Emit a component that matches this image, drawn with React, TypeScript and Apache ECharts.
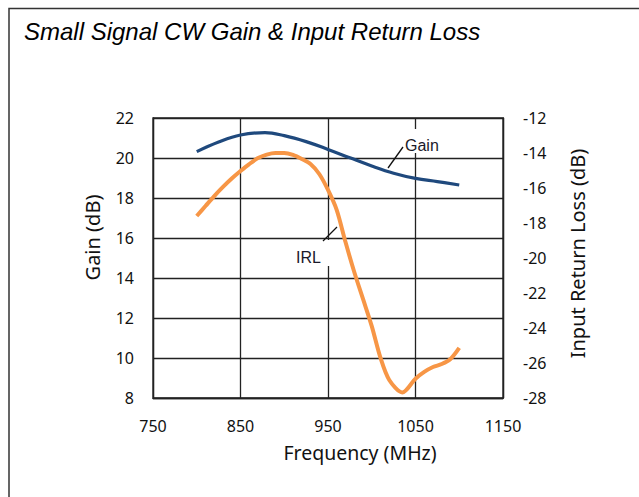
import { useEffect, useRef } from "react";
import * as echarts from "echarts";

const titleText = "Small Signal CW Gain & Input Return Loss";
const xName = "Frequency (MHz)";
const leftName = "Gain (dB)";
const rightName = "Input Return Loss (dB)";

const xMin = 750;
const xMax = 1150;
const xStep = 100;
const gainMin = 8;
const gainMax = 22;
const irlMin = -28;
const irlMax = -12;

const gainFreq = [800, 825, 850, 878, 900, 925, 950, 975, 1000, 1025, 1050, 1075, 1100];
const gainDb = [20.32, 20.8, 21.15, 21.27, 21.12, 20.82, 20.43, 20.01, 19.6, 19.24, 18.98, 18.82, 18.65];

const irlFreq = [
  800, 810, 820, 830, 840, 850, 860, 870, 880, 890, 900, 910, 920, 930, 940, 950,
  960, 970, 980, 990, 1000, 1010, 1020, 1035, 1050, 1060, 1070, 1080, 1090, 1100,
];
const irlDb = [
  -17.6, -17.03, -16.46, -15.94, -15.46, -15.03, -14.63, -14.29, -14.09, -14.0, -14.0, -14.11, -14.34, -14.63, -15.2, -16.11,
  -17.26, -19.09, -20.8, -22.34, -23.89, -25.71, -26.97, -27.68, -26.9, -26.51, -26.23, -26.06, -25.77, -25.14,
];

const FONT = "'Noto Sans', 'Open Sans', sans-serif";

export default function App() {
  const ref = useRef<HTMLDivElement>(null);
  useEffect(() => {
    if (!ref.current) return;
    const chart = echarts.init(ref.current, null, { renderer: "svg" });
    const gridColor = "#222";
    chart.setOption({
      animation: false,
      backgroundColor: "#fff",
      grid: {
        left: 153,
        top: 118,
        right: 136,
        bottom: 99,
        show: true,
        borderColor: gridColor,
        borderWidth: 1.3,
      },
      xAxis: {
        type: "value",
        min: xMin,
        max: xMax,
        interval: xStep,
        axisLine: { show: true, lineStyle: { color: gridColor, width: 1.3 } },
        axisTick: { show: false },
        splitLine: { show: true, lineStyle: { color: gridColor, width: 1.3 } },
        axisLabel: {
          color: "#111",
          fontFamily: FONT,
          fontSize: 16,
          margin: 20,
          formatter: (v: number) => String(v),
        },
      },
      yAxis: [
        {
          type: "value",
          min: gainMin,
          max: gainMax,
          interval: 2,
          axisLine: { show: true, lineStyle: { color: gridColor, width: 1.3 } },
          axisTick: { show: false },
          splitLine: { show: true, lineStyle: { color: gridColor, width: 1.3 } },
          axisLabel: { color: "#111", fontFamily: FONT, fontSize: 16, margin: 19 },
        },
        {
          type: "value",
          min: irlMin,
          max: irlMax,
          interval: 2,
          position: "right",
          axisLine: { show: true, lineStyle: { color: gridColor, width: 1.3 } },
          axisTick: { show: false },
          splitLine: { show: false },
          axisLabel: { color: "#111", fontFamily: FONT, fontSize: 16, margin: 20 },
        },
      ],
      series: [
        {
          name: "Gain",
          type: "line",
          yAxisIndex: 0,
          smooth: 0.4,
          showSymbol: false,
          lineStyle: { color: "#1F497D", width: 3.2 },
          data: gainFreq.map((f, i) => [f, gainDb[i]]),
          z: 3,
        },
        {
          name: "IRL",
          type: "line",
          yAxisIndex: 1,
          smooth: 0.3,
          showSymbol: false,
          lineStyle: { color: "#F79646", width: 4 },
          data: irlFreq.map((f, i) => [f, irlDb[i]]),
          z: 3,
        },
      ],
      graphic: [
        {
          type: "rect",
          z: 100,
          shape: { x: 9, y: 8.5, width: 700, height: 600 },
          style: { fill: "none", stroke: "#333", lineWidth: 1.5 },
        },
        {
          type: "text",
          z: 100,
          x: 24,
          y: 31.5,
          style: {
            text: titleText,
            fontFamily: "'Liberation Sans', Arial, sans-serif",
            fontStyle: "italic",
            fontSize: 24,
            fill: "#000",
            verticalAlign: "middle",
            align: "left",
          },
        },
        {
          type: "text",
          z: 100,
          x: 92,
          y: 237.5,
          rotation: Math.PI / 2,
          style: {
            text: leftName,
            fontFamily: FONT,
            fontSize: 20,
            fill: "#111",
            align: "center",
            verticalAlign: "middle",
          },
        },
        {
          type: "text",
          z: 100,
          x: 577,
          y: 253.5,
          rotation: Math.PI / 2,
          style: {
            text: rightName,
            fontFamily: FONT,
            fontSize: 20,
            fill: "#111",
            align: "center",
            verticalAlign: "middle",
          },
        },
        {
          type: "text",
          z: 100,
          x: 360,
          y: 452,
          style: {
            text: xName,
            fontFamily: FONT,
            fontSize: 19.5,
            fill: "#111",
            align: "center",
            verticalAlign: "middle",
          },
        },
        {
          type: "rect",
          z: 50,
          shape: { x: 403, y: 129, width: 40, height: 24 },
          style: { fill: "#fff" },
        },
        {
          type: "text",
          z: 100,
          x: 405,
          y: 145,
          style: {
            text: "Gain",
            fontFamily: "'Liberation Sans', Arial, sans-serif",
            fontSize: 16,
            fill: "#1a1a2a",
            align: "left",
            verticalAlign: "middle",
          },
        },
        {
          type: "line",
          z: 100,
          shape: { x1: 388, y1: 168, x2: 403, y2: 147 },
          style: { stroke: "#111", lineWidth: 1.3 },
        },
        {
          type: "rect",
          z: 50,
          shape: { x: 292, y: 240, width: 40, height: 26 },
          style: { fill: "#fff" },
        },
        {
          type: "text",
          z: 100,
          x: 296,
          y: 257,
          style: {
            text: "IRL",
            fontFamily: "'Liberation Sans', Arial, sans-serif",
            fontSize: 16,
            fill: "#1a1a2a",
            align: "left",
            verticalAlign: "middle",
          },
        },
        {
          type: "line",
          z: 100,
          shape: { x1: 323, y1: 241, x2: 337, y2: 227 },
          style: { stroke: "#111", lineWidth: 1.3 },
        },
      ],
    });
    return () => chart.dispose();
  }, []);
  return (
    <div
      ref={ref}
      style={{ position: "fixed", left: 0, top: 0, width: 639, height: 497 }}
    />
  );
}
